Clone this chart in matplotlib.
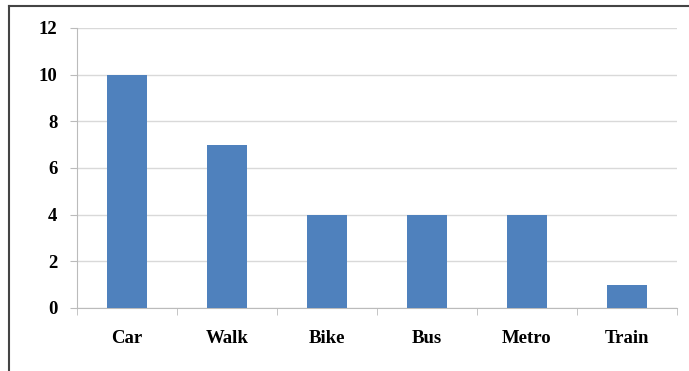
import matplotlib
matplotlib.use("Agg")
import matplotlib.pyplot as plt
from matplotlib.lines import Line2D

categories = ["Car", "Walk", "Bike", "Bus", "Metro", "Train"]
values = [10, 7, 4, 4, 4, 1]
yticks = [0, 2, 4, 6, 8, 10, 12]

plt.rcParams['font.family'] = ['Liberation Serif', 'DejaVu Serif']

fig = plt.figure(figsize=(6.89, 3.71), dpi=100)
ax = fig.add_axes([77/689, 1-308/371, 600/689, 280/371])

x = list(range(len(categories)))
ax.bar(x, values, width=0.4, color="#4F81BD", zorder=3)
ax.set_xlim(-0.5, len(categories)-0.5)
ax.set_ylim(0, 12)
ax.set_yticks(yticks)
ax.set_yticklabels([str(t) for t in yticks], fontsize=13.5, fontweight='bold')
ax.set_xticks(x)
ax.set_xticklabels(categories, fontsize=13.5, fontweight='bold')
ax.tick_params(axis='x', length=0, pad=16)
ax.tick_params(axis='y', length=5, color="#BBBBBB", pad=9)
# minor ticks between categories
ax.set_xticks([i - 0.5 for i in range(len(categories)+1)], minor=True)
ax.tick_params(axis='x', which='minor', length=5, color="#BBBBBB", direction='out')
ax.grid(axis='y', color="#D9D9D9", linewidth=1, zorder=0)
for s in ['top', 'right']:
    ax.spines[s].set_visible(False)
ax.spines['left'].set_color("#BBBBBB")
ax.spines['bottom'].set_color("#BBBBBB")

# figure border (top and left)
fig.add_artist(Line2D([9/689, 9/689], [0, 1-6/371], transform=fig.transFigure, color="#444444", linewidth=1.5))
fig.add_artist(Line2D([9/689, 1], [1-6/371, 1-6/371], transform=fig.transFigure, color="#444444", linewidth=1.5))

fig.savefig("out.png", dpi=100)
